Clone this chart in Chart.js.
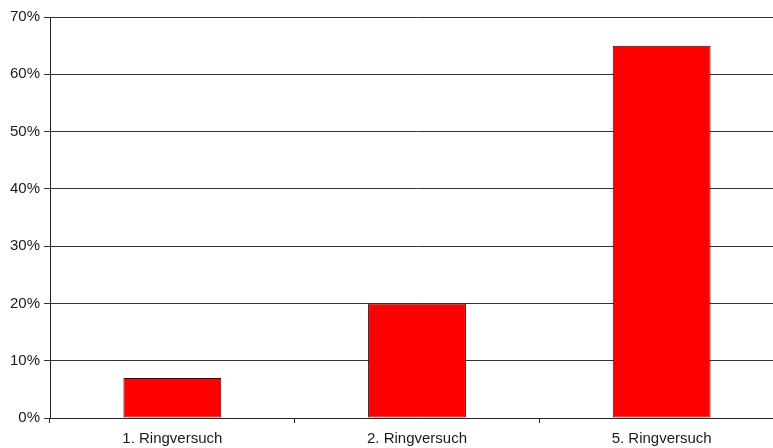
<!DOCTYPE html>
<html>
<head>
<meta charset="utf-8">
<script src="https://cdn.jsdelivr.net/npm/chart.js@4"></script>
<style>
  html, body { margin: 0; padding: 0; background: #fff; overflow: hidden; }
  #outer { width: 773px; height: 448px; overflow: hidden; }
  #wrap { width: 785px; height: 448px; }
</style>
</head>
<body>
<div id="outer"><div id="wrap"><canvas id="chart"></canvas></div></div>
<script>
// Daten
const categories = ['1. Ringversuch', '2. Ringversuch', '5. Ringversuch'];
const values = [7, 20, 65];
const yTicks = [0, 10, 20, 30, 40, 50, 60, 70];

const ctx = document.getElementById('chart').getContext('2d');
new Chart(ctx, {
    type: 'bar',
    data: {
        labels: categories,
        datasets: [{
            data: values,
            backgroundColor: '#FF0000',
            borderColor: '#4d0000',
            borderWidth: 1,
            borderSkipped: false,
            barPercentage: 0.8,
            categoryPercentage: 0.5
        }]
    },
    options: {
        responsive: true,
        maintainAspectRatio: false,
        animation: false,
        layout: { padding: { top: 17, right: 1, left: 0, bottom: 0 } },
        plugins: {
            legend: { display: false },
            tooltip: { enabled: false }
        },
        scales: {
            x: {
                offset: true,
                grid: {
                    offset: true,
                    drawOnChartArea: false,
                    drawTicks: true,
                    tickLength: 5,
                    color: '#222'
                },
                border: { color: '#222', width: 1 },
                ticks: {
                    color: '#1a1a1a',
                    font: { family: 'Liberation Sans, Arial', size: 15 },
                    padding: 7,
                    maxRotation: 0
                },
                afterFit: axis => { axis.height = 30; }
            },
            y: {
                min: 0,
                max: 70,
                afterBuildTicks: axis => { axis.ticks = yTicks.map(v => ({ value: v })); },
                grid: {
                    color: '#333',
                    tickLength: 6,
                    drawTicks: true
                },
                border: { color: '#222', width: 1 },
                ticks: {
                    color: '#1a1a1a',
                    font: { family: 'Liberation Sans, Arial', size: 15 },
                    padding: 4,
                    callback: v => v + '%'
                },
                afterFit: axis => { axis.width = 50; }
            }
        }
    }
});
</script>
</body>
</html>
